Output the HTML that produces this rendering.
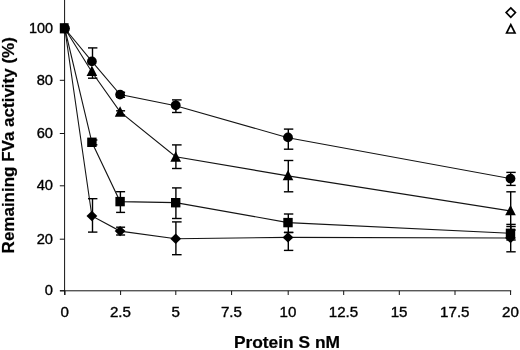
<!DOCTYPE html>
<html><head><meta charset="utf-8"><title>chart</title>
<style>
html,body{margin:0;padding:0;background:#fff;}
body{width:520px;height:350px;overflow:hidden;}
svg{display:block;}
text{font-family:"Liberation Sans",Arial,Helvetica,sans-serif;fill:#000;}
.t{font-size:14px;stroke:#000;stroke-width:0.35px;}
.b{font-weight:bold;stroke:#000;stroke-width:0.2px;}
</style></head><body>
<svg width="520" height="350" viewBox="0 0 520 350">
<rect width="520" height="350" fill="#fff"/>
<line x1="64.6" y1="0" x2="64.6" y2="295" stroke="#111" stroke-width="1"/>
<line x1="60" y1="290.8" x2="511.2" y2="290.8" stroke="#111" stroke-width="1"/>
<text transform="translate(53.0,33.0) scale(1.03,1)" text-anchor="end" class="t">100</text>
<line x1="59.8" y1="80.3" x2="64.6" y2="80.3" stroke="#111" stroke-width="1"/>
<text transform="translate(53.0,84.5) scale(1.05,1)" text-anchor="end" class="t">80</text>
<line x1="59.8" y1="133.5" x2="64.6" y2="133.5" stroke="#111" stroke-width="1"/>
<text transform="translate(53.0,137.8) scale(1.05,1)" text-anchor="end" class="t">60</text>
<line x1="59.8" y1="185.8" x2="64.6" y2="185.8" stroke="#111" stroke-width="1"/>
<text transform="translate(53.0,190.3) scale(1.05,1)" text-anchor="end" class="t">40</text>
<line x1="59.8" y1="239.2" x2="64.6" y2="239.2" stroke="#111" stroke-width="1"/>
<text transform="translate(53.0,243.8) scale(1.05,1)" text-anchor="end" class="t">20</text>
<line x1="59.8" y1="290.8" x2="64.6" y2="290.8" stroke="#111" stroke-width="1"/>
<text transform="translate(53.0,295.2) scale(1.05,1)" text-anchor="end" class="t">0</text>
<line x1="65.0" y1="290.8" x2="65.0" y2="295" stroke="#111" stroke-width="1"/>
<text transform="translate(64.8,317.3) scale(1.08,1)" text-anchor="middle" class="t">0</text>
<line x1="120.6" y1="290.8" x2="120.6" y2="295" stroke="#111" stroke-width="1"/>
<text transform="translate(120.4,317.3) scale(1.08,1)" text-anchor="middle" class="t">2.5</text>
<line x1="175.8" y1="290.8" x2="175.8" y2="295" stroke="#111" stroke-width="1"/>
<text transform="translate(175.6,317.3) scale(1.08,1)" text-anchor="middle" class="t">5</text>
<line x1="231.6" y1="290.8" x2="231.6" y2="295" stroke="#111" stroke-width="1"/>
<text transform="translate(231.4,317.3) scale(1.08,1)" text-anchor="middle" class="t">7.5</text>
<line x1="288.2" y1="290.8" x2="288.2" y2="295" stroke="#111" stroke-width="1"/>
<text transform="translate(288.0,317.3) scale(1.08,1)" text-anchor="middle" class="t">10</text>
<line x1="343.7" y1="290.8" x2="343.7" y2="295" stroke="#111" stroke-width="1"/>
<text transform="translate(343.5,317.3) scale(1.08,1)" text-anchor="middle" class="t">12.5</text>
<line x1="399.3" y1="290.8" x2="399.3" y2="295" stroke="#111" stroke-width="1"/>
<text transform="translate(399.1,317.3) scale(1.08,1)" text-anchor="middle" class="t">15</text>
<line x1="455.0" y1="290.8" x2="455.0" y2="295" stroke="#111" stroke-width="1"/>
<text transform="translate(454.8,317.3) scale(1.08,1)" text-anchor="middle" class="t">17.5</text>
<line x1="510.6" y1="290.8" x2="510.6" y2="295" stroke="#111" stroke-width="1"/>
<text transform="translate(510.4,317.3) scale(1.08,1)" text-anchor="middle" class="t">20</text>
<text transform="translate(286.9,347.6) scale(1.085,1)" text-anchor="middle" class="b" style="font-size:16px">Protein S nM</text>
<text transform="translate(14.1,145.3) rotate(-90) scale(1.062,1)" text-anchor="middle" class="b" style="font-size:16px">Remaining FVa activity (%)</text>
<polygon points="510.8,7.9 515.5,12.6 510.8,17.3 506.1,12.6" fill="none" stroke="#000" stroke-width="1.6"/>
<polygon points="510.8,24.6 515,33 506.6,33" fill="none" stroke="#000" stroke-width="1.7"/>
<polyline fill="none" stroke="#141414" stroke-width="1.1" points="64.8,28.5 91.9,61.4 120.1,94.6 175.7,105.7 288.0,137.7 510.5,178.6"/>
<polyline fill="none" stroke="#141414" stroke-width="1.1" points="64.8,28.5 91.9,72.0 120.1,111.9 175.7,156.7 288.0,175.9 510.5,210.9"/>
<polyline fill="none" stroke="#141414" stroke-width="1.1" points="64.8,28.5 91.9,142.3 120.1,201.6 175.7,202.6 288.0,222.6 510.5,233.2"/>
<polyline fill="none" stroke="#141414" stroke-width="1.1" points="64.8,28.5 91.9,216.0 120.1,231.1 175.7,238.8 288.0,237.4 510.5,238.0"/>
<line x1="92.5" y1="47.9" x2="92.5" y2="61.4" stroke="#000" stroke-width="1.4"/><line x1="88.0" y1="47.9" x2="97.4" y2="47.9" stroke="#000" stroke-width="1.4"/>
<line x1="120.4" y1="92.3" x2="120.4" y2="97.3" stroke="#000" stroke-width="1.4"/><line x1="116.1" y1="92.3" x2="125.1" y2="92.3" stroke="#000" stroke-width="1.4"/><line x1="116.1" y1="97.3" x2="125.1" y2="97.3" stroke="#000" stroke-width="1.4"/>
<line x1="175.9" y1="99.9" x2="175.9" y2="112.5" stroke="#000" stroke-width="1.4"/><line x1="172.0" y1="99.9" x2="181.6" y2="99.9" stroke="#000" stroke-width="1.4"/><line x1="172.0" y1="112.5" x2="181.6" y2="112.5" stroke="#000" stroke-width="1.4"/>
<line x1="288.3" y1="129.1" x2="288.3" y2="149.2" stroke="#000" stroke-width="1.4"/><line x1="283.9" y1="129.1" x2="293.3" y2="129.1" stroke="#000" stroke-width="1.4"/><line x1="283.9" y1="149.2" x2="293.3" y2="149.2" stroke="#000" stroke-width="1.4"/>
<line x1="510.7" y1="172.4" x2="510.7" y2="185.4" stroke="#000" stroke-width="1.4"/><line x1="506.3" y1="172.4" x2="515.7" y2="172.4" stroke="#000" stroke-width="1.4"/><line x1="506.3" y1="185.4" x2="515.7" y2="185.4" stroke="#000" stroke-width="1.4"/>
<line x1="92.5" y1="71.0" x2="92.5" y2="78.2" stroke="#000" stroke-width="1.4"/><line x1="88.0" y1="78.2" x2="97.4" y2="78.2" stroke="#000" stroke-width="1.4"/>
<line x1="120.4" y1="110.8" x2="120.4" y2="115.0" stroke="#000" stroke-width="1.4"/><line x1="116.1" y1="110.8" x2="125.1" y2="110.8" stroke="#000" stroke-width="1.4"/><line x1="116.1" y1="115.0" x2="125.1" y2="115.0" stroke="#000" stroke-width="1.4"/>
<line x1="175.9" y1="144.9" x2="175.9" y2="168.5" stroke="#000" stroke-width="1.4"/><line x1="172.0" y1="144.9" x2="181.6" y2="144.9" stroke="#000" stroke-width="1.4"/><line x1="172.0" y1="168.5" x2="181.6" y2="168.5" stroke="#000" stroke-width="1.4"/>
<line x1="288.3" y1="160.5" x2="288.3" y2="191.8" stroke="#000" stroke-width="1.4"/><line x1="283.9" y1="160.5" x2="293.3" y2="160.5" stroke="#000" stroke-width="1.4"/><line x1="283.9" y1="191.8" x2="293.3" y2="191.8" stroke="#000" stroke-width="1.4"/>
<line x1="510.7" y1="191.8" x2="510.7" y2="230.0" stroke="#000" stroke-width="1.4"/><line x1="506.3" y1="191.8" x2="515.7" y2="191.8" stroke="#000" stroke-width="1.4"/><line x1="506.3" y1="230.0" x2="515.7" y2="230.0" stroke="#000" stroke-width="1.4"/>
<line x1="92.5" y1="140.0" x2="92.5" y2="144.8" stroke="#000" stroke-width="1.4"/><line x1="88.0" y1="140.0" x2="97.4" y2="140.0" stroke="#000" stroke-width="1.4"/><line x1="88.0" y1="144.8" x2="97.4" y2="144.8" stroke="#000" stroke-width="1.4"/>
<line x1="120.4" y1="191.7" x2="120.4" y2="212.4" stroke="#000" stroke-width="1.4"/><line x1="116.1" y1="191.7" x2="125.1" y2="191.7" stroke="#000" stroke-width="1.4"/><line x1="116.1" y1="212.4" x2="125.1" y2="212.4" stroke="#000" stroke-width="1.4"/>
<line x1="175.9" y1="187.9" x2="175.9" y2="218.5" stroke="#000" stroke-width="1.4"/><line x1="172.0" y1="187.9" x2="181.6" y2="187.9" stroke="#000" stroke-width="1.4"/><line x1="172.0" y1="218.5" x2="181.6" y2="218.5" stroke="#000" stroke-width="1.4"/>
<line x1="288.3" y1="214.0" x2="288.3" y2="232.5" stroke="#000" stroke-width="1.4"/><line x1="283.9" y1="214.0" x2="293.3" y2="214.0" stroke="#000" stroke-width="1.4"/><line x1="283.9" y1="232.5" x2="293.3" y2="232.5" stroke="#000" stroke-width="1.4"/>
<line x1="510.7" y1="226.5" x2="510.7" y2="240.0" stroke="#000" stroke-width="1.4"/><line x1="506.3" y1="226.5" x2="515.7" y2="226.5" stroke="#000" stroke-width="1.4"/><line x1="506.3" y1="240.0" x2="515.7" y2="240.0" stroke="#000" stroke-width="1.4"/>
<line x1="92.5" y1="198.7" x2="92.5" y2="232.1" stroke="#000" stroke-width="1.4"/><line x1="88.0" y1="198.7" x2="97.4" y2="198.7" stroke="#000" stroke-width="1.4"/><line x1="88.0" y1="232.1" x2="97.4" y2="232.1" stroke="#000" stroke-width="1.4"/>
<line x1="120.4" y1="227.2" x2="120.4" y2="235.0" stroke="#000" stroke-width="1.4"/><line x1="116.1" y1="227.2" x2="125.1" y2="227.2" stroke="#000" stroke-width="1.4"/><line x1="116.1" y1="235.0" x2="125.1" y2="235.0" stroke="#000" stroke-width="1.4"/>
<line x1="175.9" y1="221.9" x2="175.9" y2="254.7" stroke="#000" stroke-width="1.4"/><line x1="172.0" y1="221.9" x2="181.6" y2="221.9" stroke="#000" stroke-width="1.4"/><line x1="172.0" y1="254.7" x2="181.6" y2="254.7" stroke="#000" stroke-width="1.4"/>
<line x1="288.3" y1="232.4" x2="288.3" y2="250.4" stroke="#000" stroke-width="1.4"/><line x1="283.9" y1="232.4" x2="293.3" y2="232.4" stroke="#000" stroke-width="1.4"/><line x1="283.9" y1="250.4" x2="293.3" y2="250.4" stroke="#000" stroke-width="1.4"/>
<line x1="510.7" y1="224.4" x2="510.7" y2="251.8" stroke="#000" stroke-width="1.4"/><line x1="506.3" y1="224.4" x2="515.7" y2="224.4" stroke="#000" stroke-width="1.4"/><line x1="506.3" y1="251.8" x2="515.7" y2="251.8" stroke="#000" stroke-width="1.4"/>
<circle cx="65.0" cy="28.5" r="4.9"/>
<rect x="59.8" y="23.2" width="8.8" height="10.2"/>
<circle cx="91.9" cy="61.4" r="4.9"/>
<polygon points="91.9,65.6 97.2,76.0 86.6,76.0"/>
<rect x="87.2" y="137.6" width="9.4" height="9.4"/>
<polygon points="91.9,210.8 97.3,216.0 91.9,221.2 86.5,216.0"/>
<circle cx="120.1" cy="94.6" r="4.9"/>
<polygon points="120.1,106.2 125.4,116.7 114.8,116.7"/>
<rect x="115.4" y="196.9" width="9.4" height="9.4"/>
<polygon points="120.1,225.9 125.5,231.1 120.1,236.3 114.7,231.1"/>
<circle cx="175.7" cy="105.3" r="4.9"/>
<polygon points="175.7,151.2 181.0,161.7 170.4,161.7"/>
<rect x="171.0" y="198.0" width="9.4" height="9.4"/>
<polygon points="175.7,233.6 181.1,238.8 175.7,244.0 170.3,238.8"/>
<circle cx="288.0" cy="137.4" r="4.9"/>
<polygon points="288.0,169.9 293.3,180.3 282.7,180.3"/>
<rect x="283.3" y="217.9" width="9.4" height="9.4"/>
<polygon points="288.0,232.2 293.4,237.4 288.0,242.6 282.6,237.4"/>
<circle cx="510.5" cy="178.6" r="4.9"/>
<polygon points="510.5,204.9 515.8,215.3 505.2,215.3"/>
<rect x="505.8" y="228.6" width="9.4" height="9.4"/>
<polygon points="510.5,232.8 515.9,238.0 510.5,243.2 505.1,238.0"/>
</svg>
</body></html>
